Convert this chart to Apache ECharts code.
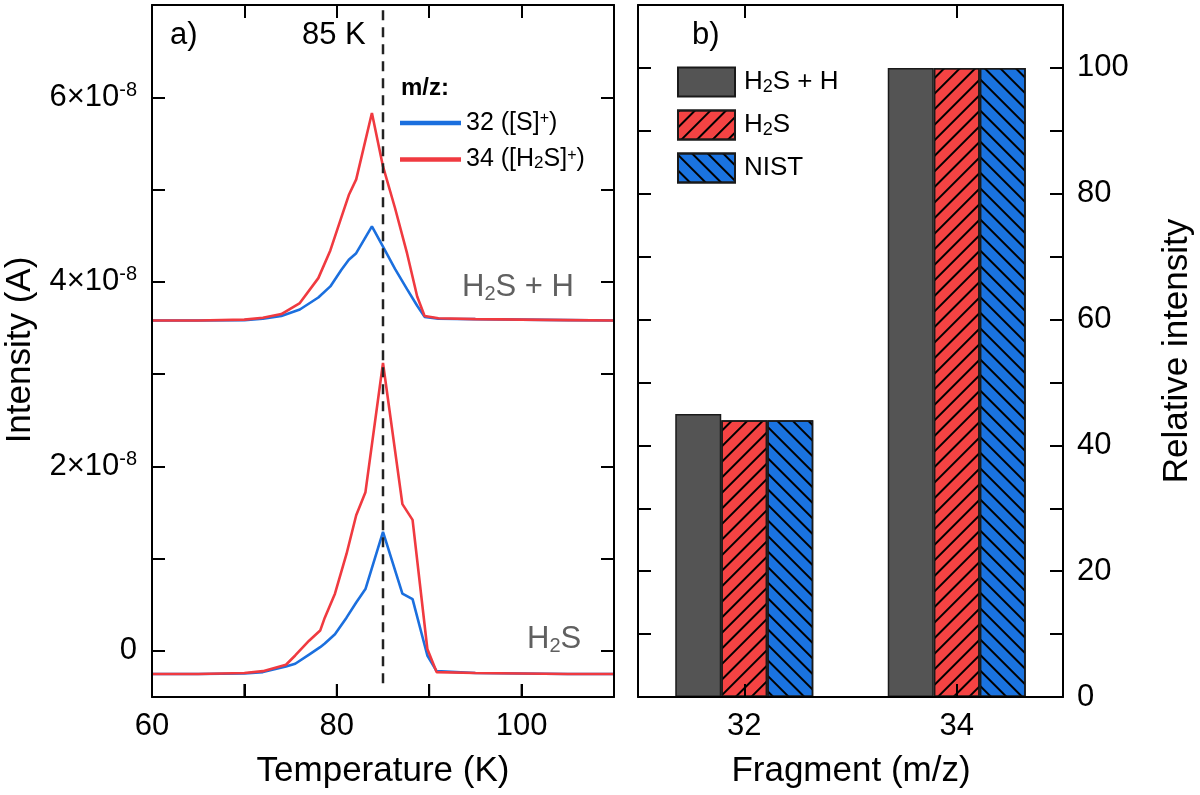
<!DOCTYPE html>
<html><head><meta charset="utf-8">
<script src="https://cdn.jsdelivr.net/npm/echarts@6/dist/echarts.min.js"></script>
<style>html,body{margin:0;padding:0;background:#fff}#c{width:1200px;height:795px}</style>
</head><body><div id="c"></div>
<script>
const FONT = "'Liberation Sans', Arial, Helvetica, sans-serif";

// ---- Panel a): TPD traces, intensity in units of 1e-8 A ----
const tempUpper = [60, 65, 70, 72, 74, 76, 78, 79.3, 80.5, 81.3, 82.1, 83.8, 85, 86.3, 87.6, 88.7, 89.5, 91, 95, 100, 105, 110];
const upperS32  = [3.58, 3.58, 3.585, 3.60, 3.63, 3.70, 3.83, 3.95, 4.13, 4.24, 4.31, 4.60, 4.38, 4.14, 3.92, 3.74, 3.62, 3.60, 3.595, 3.59, 3.585, 3.58];
const upperS34  = [3.58, 3.58, 3.59, 3.61, 3.65, 3.77, 4.04, 4.34, 4.70, 4.94, 5.11, 5.83, 5.25, 4.80, 4.31, 3.84, 3.63, 3.605, 3.595, 3.59, 3.585, 3.58];

const tempLower = [60, 65, 70, 72, 74.5, 75.5, 77, 78.2, 78.7, 79.8, 81.05, 82.1, 83.1, 85, 87.1, 88.2, 89.8, 90.8, 95, 100, 105, 110];
const lowerS32  = [-0.25, -0.25, -0.245, -0.23, -0.17, -0.14, -0.04, 0.04, 0.08, 0.18, 0.36, 0.525, 0.67, 1.29, 0.62, 0.56, -0.05, -0.22, -0.24, -0.245, -0.25, -0.25];
const lowerS34  = [-0.25, -0.25, -0.24, -0.22, -0.15, -0.05, 0.11, 0.22, 0.36, 0.62, 1.05, 1.47, 1.72, 3.12, 1.59, 1.42, 0.02, -0.23, -0.24, -0.245, -0.25, -0.25];

const markerTemp = 85;
const markerSpan = [-0.35, 7.0];
const xTicksA = [70, 80, 90, 100];
const xLabelsA = [60, 80, 100];
const yMinA = -0.5, yMaxA = 7;
const yTicksA = [0, 1, 2, 3, 4, 5, 6, 7];
const yLabelsA = [0, 2, 4, 6];

// ---- Panel b): relative fragment intensities ----
const fragments = ['32', '34'];
const relH2SH = [45, 100];
const relH2S  = [44, 100];
const relNIST = [44, 100];
const yLabelsB = [0, 20, 40, 60, 80, 100];

const zip = (xs, ys) => xs.map((x, i) => [x, ys[i]]);

const BLUE = '#1B6FDE', RED = '#F03A40';
const TICK_LEN = 13;
const tick = () => ({ show: true, inside: true, length: TICK_LEN, lineStyle: { color: '#000', width: 2 } });
const axLine = () => ({ show: true, onZero: false, lineStyle: { color: '#000', width: 2 } });
const lbl = { fontFamily: FONT, fontSize: 31, color: '#000' };

const chart = echarts.init(document.getElementById('c'), null, { renderer: 'canvas' });

const option = {
  animation: false,
  backgroundColor: '#fff',
  textStyle: { fontFamily: FONT },
  grid: [
    { left: 152, top: 5, width: 462, height: 692, show: false, containLabel: false, outerBoundsMode: 'none' },
    { left: 638, top: 5, width: 425, height: 692, show: false, containLabel: false, outerBoundsMode: 'none' }
  ],
  xAxis: [
    { gridIndex: 0, type: 'value', position: 'bottom', min: 60, max: 110, interval: 10, z: 10,
      axisLine: axLine(), axisTick: Object.assign(tick(), { customValues: xTicksA }), splitLine: { show: false },
      axisLabel: Object.assign({}, lbl, { margin: 14, customValues: xLabelsA }) },
    { gridIndex: 0, type: 'value', position: 'top', min: 60, max: 110, interval: 10, z: 10,
      axisLine: axLine(), axisTick: Object.assign(tick(), { customValues: xTicksA }), splitLine: { show: false }, axisLabel: { show: false } },
    { gridIndex: 1, type: 'category', position: 'bottom', data: fragments, boundaryGap: true, z: 10,
      axisLine: axLine(), axisTick: Object.assign(tick(), { alignWithLabel: true }), splitLine: { show: false },
      axisLabel: Object.assign({}, lbl, { margin: 14 }) },
    { gridIndex: 1, type: 'category', position: 'top', data: fragments, boundaryGap: true, z: 10,
      axisLine: axLine(), axisTick: Object.assign(tick(), { alignWithLabel: true }), splitLine: { show: false },
      axisLabel: { show: false } }
  ],
  yAxis: [
    { gridIndex: 0, type: 'value', position: 'left', min: yMinA, max: yMaxA, z: 10,
      axisLine: axLine(), splitLine: { show: false },
      axisTick: Object.assign(tick(), { customValues: yTicksA }),
      axisLabel: Object.assign({}, lbl, {
        margin: 15, customValues: yLabelsA,
        formatter: v => v === 0 ? '{n|0}' : '{n|' + v + '×10}{sup|-8}',
        rich: {
          n: { fontFamily: FONT, fontSize: 31, color: '#000', lineHeight: 34 },
          sup: { fontFamily: FONT, fontSize: 20, color: '#000', lineHeight: 18, verticalAlign: 'top' }
        }
      }) },
    { gridIndex: 0, type: 'value', position: 'right', min: yMinA, max: yMaxA, z: 10,
      axisLine: axLine(), splitLine: { show: false },
      axisTick: Object.assign(tick(), { customValues: yTicksA }), axisLabel: { show: false } },
    { gridIndex: 1, type: 'value', position: 'right', min: 0, max: 110, interval: 10, z: 10,
      axisLine: axLine(), splitLine: { show: false }, axisTick: tick(),
      axisLabel: Object.assign({}, lbl, { margin: 14, formatter: v => yLabelsB.includes(v) ? String(v) : '' }) },
    { gridIndex: 1, type: 'value', position: 'left', min: 0, max: 110, interval: 10, z: 10,
      axisLine: axLine(), splitLine: { show: false }, axisTick: tick(), axisLabel: { show: false } }
  ],
  legend: [
    { data: ['m32', 'm34'], orient: 'vertical', left: 400, top: 110.5, padding: 0, itemWidth: 61, itemHeight: 4.5, itemGap: 11.5,
      icon: 'rect',
      formatter: n => n === 'm32' ? '32 ([S]{sup|+})' : '34 ([H{sub|2}S]{sup|+})',
      textStyle: { fontFamily: FONT, fontSize: 25, color: '#000', lineHeight: 24,
        rich: {
          sup: { fontFamily: FONT, fontSize: 16, color: '#000', lineHeight: 10, verticalAlign: 'top' },
          sub: { fontFamily: FONT, fontSize: 17, color: '#000', lineHeight: 12, verticalAlign: 'bottom' }
        } } },
    { data: ['H2S + H', 'H2S', 'NIST'], orient: 'vertical', left: 677, top: 66.5, padding: 0, itemWidth: 57, itemHeight: 29, itemGap: 12,
      icon: 'rect',
      formatter: n => n === 'H2S + H' ? 'H{sub|2}S + H' : (n === 'H2S' ? 'H{sub|2}S' : 'NIST'),
      textStyle: { fontFamily: FONT, fontSize: 26, color: '#000', lineHeight: 28, padding: [0, 0, 0, 4],
        rich: {
          sub: { fontFamily: FONT, fontSize: 18, color: '#000', lineHeight: 12, verticalAlign: 'bottom' }
        } } }
  ],
  series: [
    { name: 'm32', type: 'line', xAxisIndex: 0, yAxisIndex: 0, data: zip(tempUpper, upperS32), symbol: 'none',
      lineStyle: { color: BLUE, width: 2.6 }, itemStyle: { color: BLUE } },
    { name: 'm32', type: 'line', xAxisIndex: 0, yAxisIndex: 0, data: zip(tempLower, lowerS32), symbol: 'none',
      lineStyle: { color: BLUE, width: 2.6 }, itemStyle: { color: BLUE } },
    { name: 'm34', type: 'line', xAxisIndex: 0, yAxisIndex: 0, data: zip(tempUpper, upperS34), symbol: 'none',
      lineStyle: { color: RED, width: 2.6 }, itemStyle: { color: RED } },
    { name: 'm34', type: 'line', xAxisIndex: 0, yAxisIndex: 0, data: zip(tempLower, lowerS34), symbol: 'none',
      lineStyle: { color: RED, width: 2.6 }, itemStyle: { color: RED } },
    { name: 'marker', type: 'line', xAxisIndex: 0, yAxisIndex: 0, symbol: 'none', z: 5,
      data: markerSpan.map(v => [markerTemp, v]),
      lineStyle: { color: '#222', width: 2.5, type: [10, 7] } },
    // bottom inward ticks of panel a), placed through the axis scale (top layer)
    { name: 'bottomTicks', type: 'custom', xAxisIndex: 0, yAxisIndex: 0, zlevel: 1, z: 20, silent: true, clip: false,
      data: xTicksA.map(v => [v, yMinA]),
      renderItem: (params, api) => {
        const p = api.coord([api.value(0), api.value(1)]);
        return { type: 'line', shape: { x1: p[0], y1: p[1], x2: p[0], y2: p[1] - TICK_LEN }, style: { stroke: '#000', lineWidth: 2 } };
      } },
    { name: 'H2S + H', type: 'bar', xAxisIndex: 2, yAxisIndex: 2, data: relH2SH, barWidth: 46, barGap: '0%',
      itemStyle: { color: '#545454', borderColor: '#1a1a1a', borderWidth: 1.5 } },
    { name: 'H2S', type: 'bar', xAxisIndex: 2, yAxisIndex: 2, data: relH2S, barWidth: 46, barGap: '0%',
      itemStyle: { color: '#F44343', borderColor: '#1a1a1a', borderWidth: 1.5,
        decal: { symbol: 'rect', symbolSize: 1, dashArrayX: [1, 0], dashArrayY: [1.3, 8.7], rotation: -Math.PI / 4, color: '#000', backgroundColor: null } } },
    { name: 'NIST', type: 'bar', xAxisIndex: 2, yAxisIndex: 2, data: relNIST, barWidth: 46, barGap: '0%',
      itemStyle: { color: '#1A73E0', borderColor: '#1a1a1a', borderWidth: 1.5,
        decal: { symbol: 'rect', symbolSize: 1, dashArrayX: [1, 0], dashArrayY: [1.3, 8.7], rotation: Math.PI / 4, color: '#000', backgroundColor: null } } }
  ],
  graphic: [
    { type: 'text', left: 170, top: 20, style: { text: 'a)', font: '31px ' + FONT, fill: '#000' } },
    { type: 'text', left: 302, top: 20, style: { text: '85 K', font: '31px ' + FONT, fill: '#000' } },
    { type: 'text', left: 692, top: 20, style: { text: 'b)', font: '31px ' + FONT, fill: '#000' } },
    { type: 'text', left: 401, top: 76, style: { text: 'm/z:', font: 'bold 24px ' + FONT, fill: '#000' } },
    { type: 'text', left: 462, top: 272, style: { text: '{n|H}{s|2}{n|S + H}',
        rich: { n: { fontFamily: FONT, fontSize: 31, fill: '#606060', color: '#606060', lineHeight: 34 },
                s: { fontFamily: FONT, fontSize: 20, fill: '#606060', color: '#606060', lineHeight: 14, verticalAlign: 'bottom' } } } },
    { type: 'text', left: 527, top: 624, style: { text: '{n|H}{s|2}{n|S}',
        rich: { n: { fontFamily: FONT, fontSize: 31, fill: '#606060', color: '#606060', lineHeight: 34 },
                s: { fontFamily: FONT, fontSize: 20, fill: '#606060', color: '#606060', lineHeight: 14, verticalAlign: 'bottom' } } } },
    { type: 'text', x: 383, y: 771, style: { text: 'Temperature (K)', font: '35px ' + FONT, fill: '#000', align: 'center', verticalAlign: 'middle' } },
    { type: 'text', x: 851, y: 771, style: { text: 'Fragment (m/z)', font: '35px ' + FONT, fill: '#000', align: 'center', verticalAlign: 'middle' } },
    { type: 'text', x: 20, y: 350, rotation: Math.PI / 2, style: { text: 'Intensity (A)', font: '35px ' + FONT, fill: '#000', align: 'center', verticalAlign: 'middle' } },
    { type: 'text', x: 1177, y: 351, rotation: Math.PI / 2, style: { text: 'Relative intensity', font: '35px ' + FONT, fill: '#000', align: 'center', verticalAlign: 'middle' } }
  ]
};
chart.setOption(option);
</script>
</body></html>
